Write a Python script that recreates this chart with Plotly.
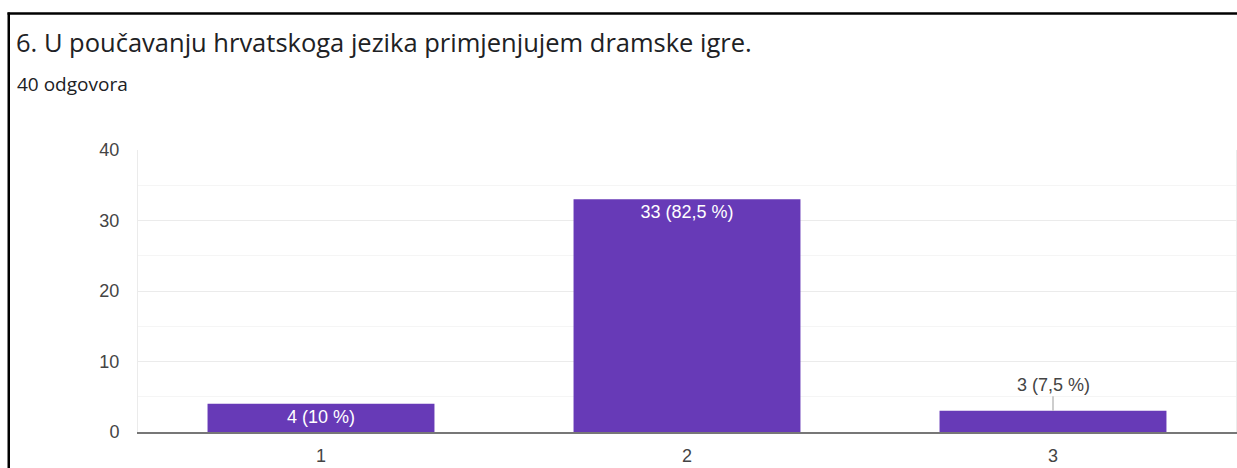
import plotly.graph_objects as go

title_text = "6. U poučavanju hrvatskoga jezika primjenjujem dramske igre."
subtitle_text = "40 odgovora"
categories = ["1", "2", "3"]
values = [4, 33, 3]
y_ticks = [0, 10, 20, 30, 40]

total = sum(values)
labels = [f"{v} ({v / total * 100:g} %)".replace(".", ",") for v in values]

W, H = 1237, 468
L, R, T, B = 138, 1, 150, 36
pw, ph = W - L - R, H - T - B

def px_x(x):
    return (x - L) / pw

def px_y(y):
    return (H - B - y) / ph

purple = "#673ab7"
arial = "Liberation Sans, Arial, sans-serif"
tick_font = dict(family=arial, size=18, color="#444444")

inside_mask = ["inside", "inside", "none"]

fig = go.Figure()
fig.add_trace(go.Bar(
    x=categories, y=values,
    marker=dict(color=purple, line=dict(width=0)),
    text=labels,
    textposition=inside_mask,
    insidetextanchor="end",
    textfont=dict(family=arial, size=18, color="white"),
    width=0.62,
    hoverinfo="skip",
))

# outside label with leader line for the last bar
last = len(categories) - 1
fig.add_annotation(
    x=last, y=values[last], text=labels[last],
    showarrow=True, arrowhead=0, arrowwidth=1.5, arrowcolor="#bdbdbd",
    ax=0, ay=-26,
    font=dict(family=arial, size=18, color="#444444"),
)

# title and subtitle
fig.add_annotation(
    text=title_text, xref="paper", yref="paper",
    x=px_x(14), y=px_y(42), xanchor="left", yanchor="middle",
    showarrow=False,
    font=dict(family="Open Sans, Roboto, sans-serif", size=25.5, color="#202124"),
)
fig.add_annotation(
    text=subtitle_text, xref="paper", yref="paper",
    x=px_x(15), y=px_y(84), xanchor="left", yanchor="middle",
    showarrow=False,
    font=dict(family="Open Sans, Roboto, sans-serif", size=19, color="#202124"),
)

# black frame (left and top edges)
fig.add_shape(type="line", xref="paper", yref="paper",
              x0=px_x(8.75), x1=px_x(8.75), y0=px_y(12.5), y1=px_y(470),
              line=dict(color="black", width=2.5))
fig.add_shape(type="line", xref="paper", yref="paper",
              x0=px_x(7.5), x1=px_x(1240), y0=px_y(13.5), y1=px_y(13.5),
              line=dict(color="black", width=2.5))

fig.update_layout(
    width=W, height=H,
    margin=dict(l=L, r=R, t=T, b=B),
    paper_bgcolor="white", plot_bgcolor="white",
    showlegend=False,
    xaxis=dict(
        type="category",
        range=[-0.5, len(categories) - 0.5],
        showgrid=False, zeroline=False,
        showline=True, linecolor="#777777", linewidth=2,
        ticks="", tickfont=tick_font,
        ticklabelstandoff=6,
    ),
    yaxis=dict(
        range=[0, 40], tickvals=y_ticks,
        showgrid=True, gridcolor="#ebebeb", gridwidth=1,
        zeroline=False,
        showline=True, linecolor="#ebebeb", linewidth=1, mirror=True,
        ticks="", tickfont=tick_font,
        ticklabelstandoff=14,
        minor=dict(dtick=5, tick0=0, showgrid=True, gridcolor="#f5f5f5", gridwidth=1),
        fixedrange=True,
    ),
)

fig.write_html(
    "out.html",
    config={"displayModeBar": False},
    post_script="document.body.style.margin='0';document.body.style.overflow='hidden';",
)
